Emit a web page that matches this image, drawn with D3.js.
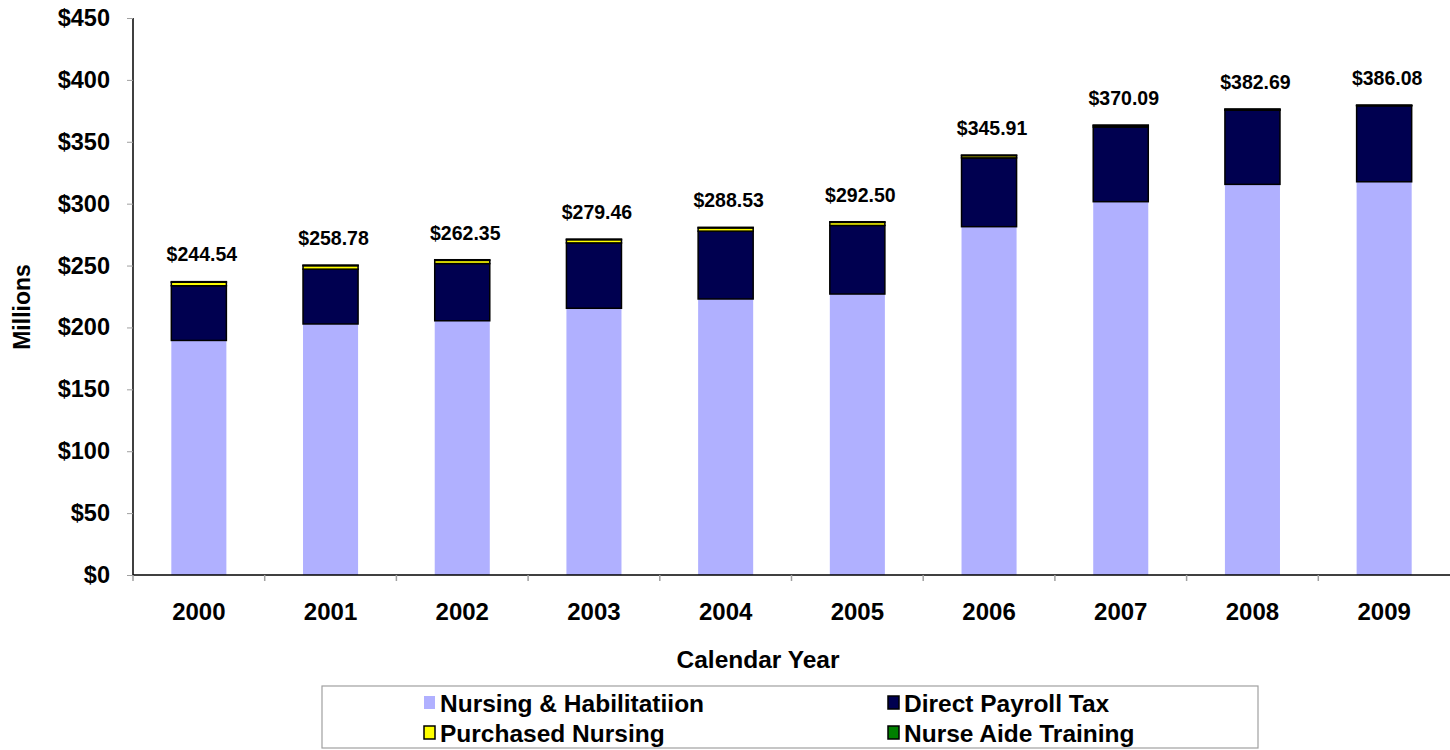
<!DOCTYPE html>
<html><head><meta charset="utf-8">
<script src="https://cdn.jsdelivr.net/npm/d3@7"></script>
<style>html,body{margin:0;padding:0;background:#fff;}svg{display:block;font-family:"Liberation Sans",Arial,sans-serif;font-weight:bold;}</style>
</head><body>
<svg id="c" width="1450" height="750"></svg>
<script>
const years = ["2000","2001","2002","2003","2004","2005","2006","2007","2008","2009"];
const nursing = [189.5, 202.8, 205.4, 215.5, 223.0, 227.0, 281.4, 301.6, 315.6, 317.7];
const payroll = [44.2, 44.3, 46.2, 52.8, 54.8, 55.4, 55.6, 60.3, 59.9, 61.4];
const purchased = [2.8, 2.8, 2.6, 2.6, 2.6, 2.5, 1.8, 1.2, 0.6, 0.2];
const aide = [0.5, 0.5, 0.5, 0.5, 0.5, 0.5, 0.5, 0.4, 0.4, 0.4];
const totalLabels = ["$244.54","$258.78","$262.35","$279.46","$288.53","$292.50","$345.91","$370.09","$382.69","$386.08"];
const yTicks = [0,50,100,150,200,250,300,350,400,450];
const seriesNames = ["Nursing & Habilitatiion","Direct Payroll Tax","Purchased Nursing","Nurse Aide Training"];
const seriesColors = ["#b0b0ff","#000050","#ffff00","#008000"];

const svg = d3.select("#c");
const x = d3.scaleBand().domain(years).range([133,1450]);
const y = d3.scaleLinear().domain([0,450]).range([575,18]);
const barW = x.bandwidth()*0.418;

const rows = years.map((yr,i)=>({year:yr, s0:nursing[i], s1:payroll[i], s2:purchased[i], s3:aide[i]}));
const stack = d3.stack().keys(["s0","s1","s2","s3"])(rows);

// y axis
const yAxis = d3.axisLeft(y).tickValues(yTicks).tickFormat(d=>"$"+d).tickSize(6).tickPadding(17);
const gy = svg.append("g").attr("transform","translate(133,0)").call(yAxis);
gy.select(".domain").attr("stroke","#000").attr("stroke-width",1.5).attr("d","M0,18V575");
gy.selectAll(".tick line").attr("stroke","#a0a0a0");
gy.selectAll(".tick text").attr("fill","#000").style("font-size","23.5px").style("font-weight","bold").style("font-family","'Liberation Sans',Arial,sans-serif");

// bars
stack.forEach((layer,k)=>{
  svg.append("g").selectAll("rect").data(layer).join("rect")
    .attr("x",d=>x(d.data.year)+(x.bandwidth()-barW)/2)
    .attr("width",barW)
    .attr("y",d=>y(d[1]))
    .attr("height",d=>y(d[0])-y(d[1]))
    .attr("fill",seriesColors[k])
    .attr("stroke",k===0?"none":"#000")
    .attr("stroke-width",1.5);
});

// x axis
const xAxis = d3.axisBottom(x).tickSize(0).tickPadding(28);
const gx = svg.append("g").attr("transform","translate(0,575)").call(xAxis);
gx.select(".domain").attr("stroke","#000").attr("stroke-width",1.5).attr("d","M133,0H1450");
gx.selectAll(".tick text").attr("fill","#000").style("font-size","24px").style("font-weight","bold").style("font-family","'Liberation Sans',Arial,sans-serif");
// category boundary ticks
svg.append("g").selectAll("line").data(years).join("line")
  .attr("x1",d=>x(d)).attr("x2",d=>x(d)).attr("y1",575).attr("y2",581)
  .attr("stroke","#a0a0a0").attr("stroke-width",1.5);

// total labels
const totals = rows.map(r=>r.s0+r.s1+r.s2+r.s3);
svg.append("g").selectAll("text").data(years).join("text")
  .attr("x",d=>x(d)+x.bandwidth()/2+3)
  .attr("y",(d,i)=>y(totals[i])-27)
  .attr("dy","0.35em")
  .attr("text-anchor","middle")
  .style("font-size","19.5px")
  .text((d,i)=>totalLabels[i]);

// axis titles
svg.append("text").attr("transform","translate(30,307) rotate(-90)")
  .attr("text-anchor","middle").style("font-size","23px").text("Millions");
svg.append("text").attr("x",758).attr("y",668)
  .attr("text-anchor","middle").style("font-size","24.5px").text("Calendar Year");

// legend
svg.append("rect").attr("x",322).attr("y",686).attr("width",936).attr("height",62)
  .attr("fill","#fff").attr("stroke","#a0a0a0").attr("stroke-width",1.2);
const legPos = [[424,703],[888,703],[424,733],[888,733]];
seriesNames.forEach((n,i)=>{
  const [lx,ly] = legPos[i];
  svg.append("rect").attr("x",lx).attr("y",ly-7).attr("width",11).attr("height",13)
    .attr("fill",seriesColors[i]).attr("stroke",i===0?"none":"#000").attr("stroke-width",1.5);
  svg.append("text").attr("x",lx+16).attr("y",ly).attr("dy","0.36em")
    .style("font-size","24.5px").text(n);
});
</script>
</body></html>
